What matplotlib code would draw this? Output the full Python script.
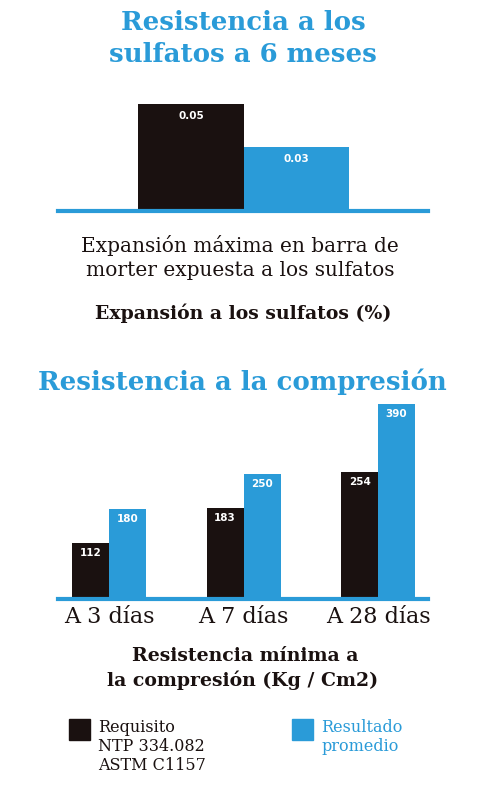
import matplotlib.pyplot as plt
from matplotlib.patches import Rectangle

# Data
sulf_series = ["Requisito", "Resultado"]
sulf_values = [0.05, 0.03]
sulf_labels = ["0.05", "0.03"]

comp_categories = ["A 3 días", "A 7 días", "A 28 días"]
comp_requisito = [112, 183, 254]
comp_resultado = [180, 250, 390]

legend_labels = ["Requisito\nNTP 334.082\nASTM C1157", "Resultado\npromedio"]

BLACK = "#1a1110"
BLUE = "#2a9bd8"
W, H = 482, 786

fig = plt.figure(figsize=(W / 100, H / 100), dpi=100)


def px_axes(left, right, top, bottom):
    return fig.add_axes([left / W, 1 - bottom / H, (right - left) / W, (bottom - top) / H])


def px_text(x, y, s, **kw):
    fig.text(x / W, 1 - y / H, s, **kw)


def clean(ax):
    for side in ["top", "left", "right"]:
        ax.spines[side].set_visible(False)
    ax.spines["bottom"].set_color(BLUE)
    ax.spines["bottom"].set_linewidth(3)
    ax.spines["bottom"].set_zorder(3)
    ax.set_xticks([])
    ax.set_yticks([])
    ax.patch.set_visible(False)


serif = "DejaVu Serif"
sans = "DejaVu Sans"

# Titles
px_text(243, 22, "Resistencia a los", ha="center", va="center",
        fontsize=18.7, color=BLUE, family=serif, weight="bold")
px_text(243, 55, "sulfatos a 6 meses", ha="center", va="center",
        fontsize=18.7, color=BLUE, family=serif, weight="bold")

# Top chart
ax1 = px_axes(58, 428, 100, 211)
ax1.set_ylim(0, 0.05 * 111 / 107)
ax1.set_xlim(-1.26, 2.247)
bars = ax1.bar([0, 1], sulf_values, width=1, color=[BLACK, BLUE])
for bar, lab in zip(bars, sulf_labels):
    ax1.annotate(lab, (bar.get_x() + bar.get_width() / 2, bar.get_height()),
                 xytext=(0, -8.5), textcoords="offset points", ha="center", va="center",
                 color="white", fontsize=7.5, weight="bold", family=sans)
clean(ax1)

px_text(240, 246, "Expansión máxima en barra de", ha="center", va="center",
        fontsize=14.5, color=BLACK, family=serif)
px_text(240, 270, "morter expuesta a los sulfatos", ha="center", va="center",
        fontsize=14.5, color=BLACK, family=serif)
px_text(243, 313, "Expansión a los sulfatos (%)", ha="center", va="center",
        fontsize=13.6, color=BLACK, family=serif, weight="bold")

px_text(242, 382, "Resistencia a la compresión", ha="center", va="center",
        fontsize=18.7, color=BLUE, family=serif, weight="bold")

# Bottom chart
ax2 = px_axes(58, 428, 395, 599)
ax2.set_ylim(0, 408)
ax2.set_xlim(-0.379, 2.371)
bw = 0.275
xs = range(len(comp_categories))
b1 = ax2.bar([x - bw / 2 for x in xs], comp_requisito, width=bw, color=BLACK)
b2 = ax2.bar([x + bw / 2 for x in xs], comp_resultado, width=bw, color=BLUE)
for bar in list(b1) + list(b2):
    ax2.annotate(f"{int(bar.get_height())}", (bar.get_x() + bar.get_width() / 2, bar.get_height()),
                 xytext=(0, -7.5), textcoords="offset points", ha="center", va="center",
                 color="white", fontsize=7.5, weight="bold", family=sans)
clean(ax2)
ax2.set_xticks(list(xs))
ax2.set_xticklabels(comp_categories, fontsize=16, family=serif, color=BLACK)
ax2.tick_params(axis="x", length=0, pad=5)

px_text(245, 656, "Resistencia mínima a", ha="center", va="center",
        fontsize=13.6, color=BLACK, family=serif, weight="bold")
px_text(243, 680, "la compresión (Kg / Cm2)", ha="center", va="center",
        fontsize=13.6, color=BLACK, family=serif, weight="bold")

# Legend
for (x, col, lab) in [(69, BLACK, legend_labels[0]), (292, BLUE, legend_labels[1])]:
    fig.add_artist(Rectangle((x / W, 1 - 740 / H), 21 / W, 21 / H, color=col,
                             transform=fig.transFigure))
    px_text(x + 29, 719, lab, ha="left", va="top", fontsize=11.5, family=serif,
            color=col if col == BLUE else BLACK, linespacing=1.15)

fig.savefig("out.png", dpi=100)
